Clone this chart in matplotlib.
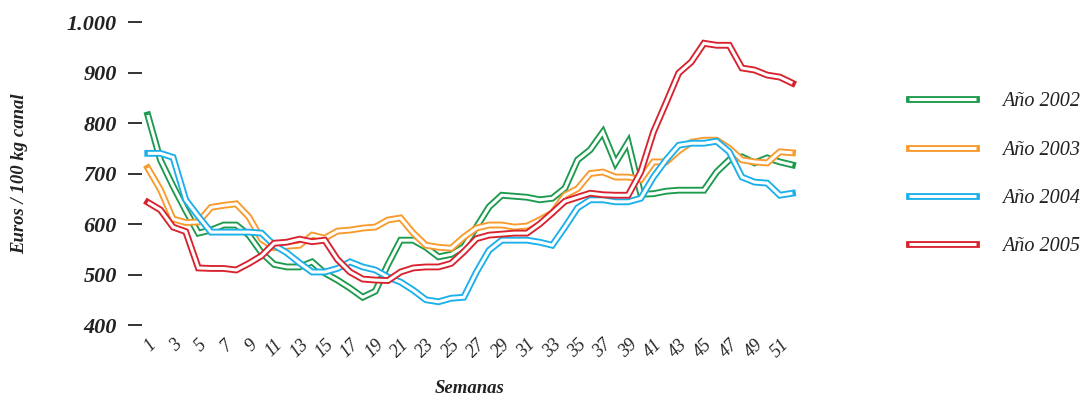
import numpy as np
import matplotlib
matplotlib.use("Agg")
import matplotlib.pyplot as plt
import matplotlib.patheffects as pe

weeks = np.arange(1, 53)

precio_2002 = [816, 727, 675, 627, 582, 588, 598, 598, 578, 543,
               520, 515, 515, 525, 503, 489, 473, 455, 467, 520,
               568, 568, 554, 535, 540, 555, 594, 634, 657, 655,
               653, 648, 651, 671, 727, 747, 782, 721, 762, 659,
               660, 665, 667, 667, 667, 703, 727, 733, 721, 731,
               723, 717]
precio_2003 = [711, 668, 610, 603, 604, 633, 637, 640, 614, 570,
               553, 556, 558, 578, 572, 586, 588, 592, 594, 608,
               612, 582, 558, 554, 552, 574, 592, 598, 598, 594,
               596, 608, 622, 657, 670, 700, 703, 693, 693, 688,
               723, 723, 745, 762, 766, 766, 750, 727, 723, 721,
               743, 741]
precio_2004 = [740, 740, 732, 648, 615, 584, 584, 584, 584, 582,
               558, 543, 523, 505, 505, 512, 525, 515, 509, 495,
               485, 469, 450, 446, 453, 455, 505, 548, 568, 568,
               568, 564, 558, 594, 632, 648, 648, 644, 644, 651,
               693, 727, 756, 760, 760, 764, 743, 693, 683, 681,
               657, 661]
precio_2005 = [643, 628, 594, 585, 513, 512, 512, 509, 522, 537,
               562, 564, 570, 565, 568, 530, 505, 491, 489, 488,
               505, 513, 515, 515, 522, 545, 571, 578, 580, 582,
               582, 600, 622, 645, 653, 661, 658, 657, 657, 703,
               782, 840, 899, 921, 958, 954, 954, 909, 905, 895,
               891, 879]

series = [
    ("Año 2002", precio_2002, "#1d9a4e"),
    ("Año 2003", precio_2003, "#f89a2c"),
    ("Año 2004", precio_2004, "#1cb0ea"),
    ("Año 2005", precio_2005, "#d8232f"),
]

y_ticks = [400, 500, 600, 700, 800, 900, 1000]
y_labels = ["400", "500", "600", "700", "800", "900", "1.000"]
x_ticks = list(range(1, 53, 2))

serif = ["Liberation Serif", "DejaVu Serif"]

fig = plt.figure(figsize=(10.91, 4.01), dpi=100)
ax = fig.add_axes([0.130, 0.1895, 0.601, 0.7555])

for label, vals, col in series:
    ax.plot(weeks, vals, color="white", lw=2.2, label=label,
            solid_joinstyle="miter", solid_capstyle="butt", clip_on=False,
            path_effects=[pe.Stroke(linewidth=4.9, foreground=col,
                                    capstyle="projecting", joinstyle="miter"),
                          pe.Normal()])

ax.set_xlim(0.53, 52.4)
ax.set_ylim(400, 1000)

for s in ax.spines.values():
    s.set_visible(False)

ax.set_yticks(y_ticks)
ax.set_yticklabels(y_labels, fontfamily=serif, fontweight="bold",
                   fontstyle="italic", fontsize=16, color="#222222")
ax.tick_params(axis="y", length=10, width=1.4, color="#333333", pad=8)

ax.set_xticks(x_ticks)
ax.set_xticklabels([str(w) for w in x_ticks], rotation=45, ha="right",
                   rotation_mode="anchor", fontfamily=serif,
                   fontstyle="italic", fontsize=13, color="#222222")
ax.tick_params(axis="x", length=0, pad=8)

ax.set_ylabel("Euros / 100 kg canal", fontfamily=serif, fontweight="bold",
              fontstyle="italic", fontsize=13.5, color="#222222", labelpad=28)
ax.set_xlabel("Semanas", fontfamily=serif, fontweight="bold",
              fontstyle="italic", fontsize=13.5, color="#222222", labelpad=14)

leg = fig.legend(loc="upper left", bbox_to_anchor=(0.817, 0.815),
                 frameon=False, handlelength=3.3, handletextpad=1.3,
                 labelspacing=1.45,
                 prop={"family": serif, "style": "italic", "size": 14.5})
for t in leg.get_texts():
    t.set_color("#222222")

fig.savefig("out.png", dpi=100)
